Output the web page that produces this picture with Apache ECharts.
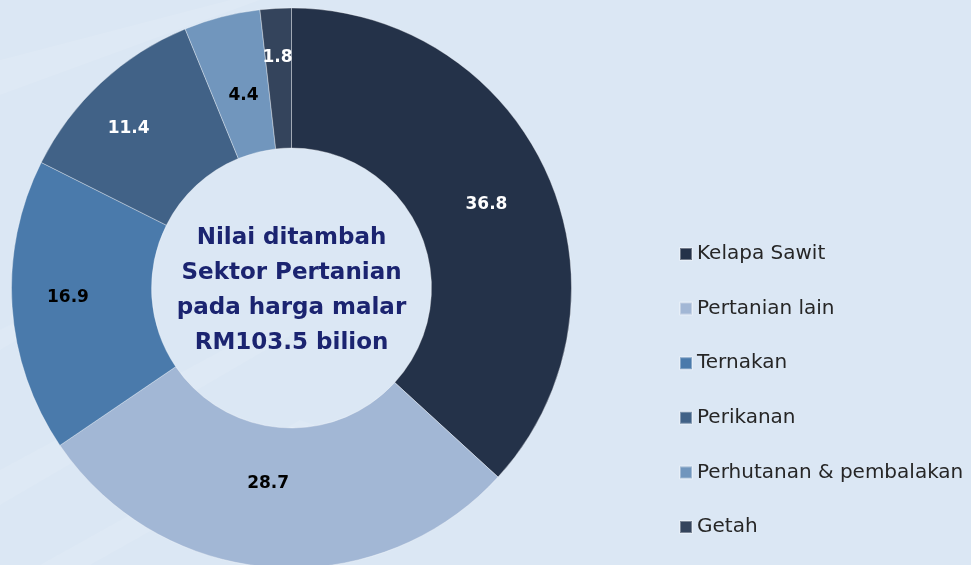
<!DOCTYPE html>
<html>
<head>
<meta charset="utf-8">
<title>Nilai ditambah Sektor Pertanian</title>
<script src="https://cdn.jsdelivr.net/npm/echarts@6/dist/echarts.min.js"></script>
<style>
  html, body { margin: 0; padding: 0; background: #dbe7f4; }
  #chart { width: 971px; height: 565px; }
</style>
</head>
<body>
<div id="chart"></div>
<script>
// Sub-sector shares (%) of agricultural value added
const categories = ['Kelapa Sawit', 'Pertanian lain', 'Ternakan', 'Perikanan', 'Perhutanan & pembalakan', 'Getah'];
const shares = [36.8, 28.7, 16.9, 11.4, 4.4, 1.8];
const centerLines = ['Nilai ditambah', 'Sektor Pertanian', 'pada harga malar', 'RM103.5 bilion'];

const sliceColors = ['#243249', '#a2b7d5', '#4a7aab', '#416287', '#7196bd', '#34445c'];
const labelColors = ['#ffffff', '#000000', '#000000', '#ffffff', '#000000', '#ffffff'];
const labelOffsets = [[0, 2], [-8, -17], [-11, -4], [-18, -3], [5, 14], [-2, -18]];

const FONT = 'DejaVu Sans';
const CX = 291.5, CY = 288;

const chart = echarts.init(document.getElementById('chart'), null, { renderer: 'canvas' });

// faint diagonal streaks in the backdrop
const streaks = [
  [[0, 60], [230, 0], [260, 0], [0, 95]],
  [[0, 470], [260, 330], [300, 330], [0, 505]],
  [[0, 330], [60, 300], [60, 315], [0, 350]],
  [[40, 565], [300, 420], [330, 430], [90, 565]]
].map(pts => ({
  type: 'polygon',
  silent: true,
  z: -10,
  shape: { points: pts },
  style: { fill: 'rgba(255,255,255,0.09)' }
}));

chart.setOption({
  backgroundColor: '#dbe7f4',
  animation: false,
  graphic: streaks.concat([{
    type: 'text',
    x: CX,
    y: 291,
    z: 10,
    style: {
      text: centerLines.join('\n'),
      align: 'center',
      verticalAlign: 'middle',
      fontFamily: FONT,
      fontWeight: 'bold',
      fontSize: 23,
      lineHeight: 35,
      fill: '#1b2470'
    }
  }]),
  legend: {
    orient: 'vertical',
    left: 679,
    top: 244,
    padding: 0,
    itemWidth: 12,
    itemHeight: 12,
    itemGap: 34.6,
    icon: 'rect',
    data: categories,
    textStyle: {
      fontFamily: FONT,
      fontSize: 20,
      lineHeight: 20,
      color: '#262626'
    }
  },
  series: [{
    type: 'pie',
    center: [CX, CY],
    radius: [140, 280],
    startAngle: 90,
    clockwise: true,
    avoidLabelOverlap: false,
    emphasis: { disabled: true },
    itemStyle: { borderColor: 'rgba(255,255,255,0.35)', borderWidth: 1 },
    labelLine: { show: false },
    data: categories.map((name, i) => ({
      name: name,
      value: shares[i],
      itemStyle: { color: sliceColors[i] },
      label: {
        show: true,
        position: 'inside',
        color: labelColors[i],
        offset: labelOffsets[i],
        fontFamily: FONT,
        fontWeight: 'bold',
        fontSize: 17,
        formatter: p => p.value.toFixed(1)
      }
    }))
  }]
});
</script>
</body>
</html>
